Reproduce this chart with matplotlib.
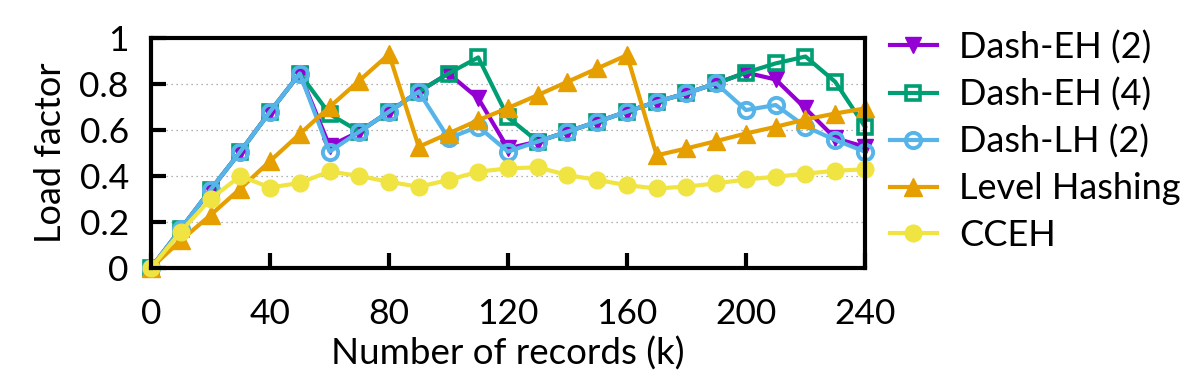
import matplotlib
matplotlib.use("Agg")
import matplotlib.pyplot as plt

plt.rcParams['font.family'] = ['Lato', 'DejaVu Sans']

x_records = list(range(0, 250, 10))

dash_eh2 = [0.0, 0.17, 0.34, 0.506, 0.68, 0.846, 0.53, 0.593, 0.68, 0.767, 0.846, 0.738, 0.52,
            0.55, 0.593, 0.636, 0.68, 0.723, 0.76, 0.803, 0.85, 0.82, 0.694, 0.564, 0.527]
dash_eh4 = [0.0, 0.17, 0.34, 0.506, 0.68, 0.846, 0.67, 0.593, 0.68, 0.767, 0.846, 0.916, 0.655,
            0.55, 0.593, 0.636, 0.68, 0.723, 0.76, 0.803, 0.85, 0.89, 0.92, 0.81, 0.615]
dash_lh2 = [0.0, 0.17, 0.34, 0.506, 0.68, 0.846, 0.506, 0.593, 0.68, 0.767, 0.564, 0.615, 0.506,
            0.55, 0.593, 0.636, 0.68, 0.723, 0.76, 0.803, 0.687, 0.709, 0.615, 0.557, 0.506]
level_hashing = [0.0, 0.12, 0.23, 0.345, 0.465, 0.583, 0.70, 0.815, 0.93, 0.527, 0.585, 0.643, 0.696,
                 0.752, 0.81, 0.868, 0.926, 0.49, 0.52, 0.552, 0.585, 0.614, 0.646, 0.672, 0.694]
cceh = [0.0, 0.158, 0.30, 0.40, 0.35, 0.37, 0.42, 0.40, 0.375, 0.353, 0.383, 0.419, 0.433,
        0.438, 0.404, 0.383, 0.36, 0.346, 0.354, 0.368, 0.385, 0.397, 0.41, 0.423, 0.429]

labels = ['Dash-EH (2)', 'Dash-EH (4)', 'Dash-LH (2)', 'Level Hashing', 'CCEH']
xticks = [0, 40, 80, 120, 160, 200, 240]
yticks = [0, 0.2, 0.4, 0.6, 0.8, 1]
ytick_labels = ['0', '0.2', '0.4', '0.6', '0.8', '1']

fig = plt.figure(figsize=(11.95, 3.85), dpi=100)
ax = fig.add_axes([0.1264, 0.304, 0.7238 - 0.1264, 0.901 - 0.304])

lw = 3.0
ax.plot(x_records, dash_eh2, color='#9400D3', lw=lw, marker='v', ms=12, label=labels[0], clip_on=False)
ax.plot(x_records, dash_eh4, color='#009E73', lw=lw, marker='s', ms=10, mfc='none', mew=2.6,
        label=labels[1], clip_on=False)
ax.plot(x_records, dash_lh2, color='#56B4E9', lw=lw, marker='o', ms=11, mfc='none', mew=2.8,
        label=labels[2], clip_on=False)
ax.plot(x_records, level_hashing, color='#E69F00', lw=lw, marker='^', ms=13, label=labels[3], clip_on=False)
ax.plot(x_records, cceh, color='#F0E442', lw=lw, marker='o', ms=12, label=labels[4], clip_on=False)

ax.set_xlim(0, 240)
ax.set_ylim(0, 1)
ax.set_xticks(xticks)
ax.set_xticklabels([str(v) for v in xticks])
ax.set_yticks(yticks)
ax.set_yticklabels(ytick_labels)

for y in [0.2, 0.4, 0.6, 0.8]:
    ax.axhline(y, color='#999999', lw=0.9, ls=(0, (1, 3)), zorder=0)

for s in ax.spines.values():
    s.set_linewidth(3)
ax.tick_params(axis='both', direction='in', length=11, width=3, labelsize=25.5)
ax.tick_params(axis='x', top=False, pad=21.5)
ax.tick_params(axis='y', right=False, pad=16)

ax.set_xlabel('Number of records (k)', fontsize=26.5, labelpad=5)
ax.set_ylabel('Load factor', fontsize=26, labelpad=9)

leg = ax.legend(loc='upper left', bbox_to_anchor=(1.035, 1.035), frameon=False, fontsize=26,
                handlelength=1.3, handletextpad=0.62, labelspacing=0.37, borderaxespad=0,
                borderpad=0)

fig.savefig('out.png', dpi=100)
